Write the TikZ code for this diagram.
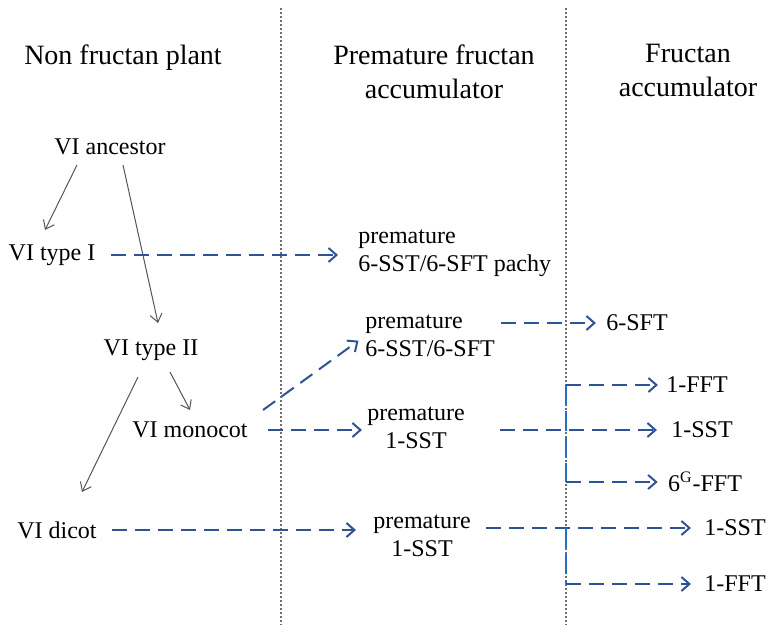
\documentclass[tikz,border=0pt]{standalone}
\usepackage{fontspec}
\setmainfont{Liberation Serif}
\usepackage{tikz}
\usetikzlibrary{arrows.meta}
\definecolor{arrowColor}{RGB}{47,84,150}
\definecolor{bracketColor}{RGB}{40,110,190}
\definecolor{treeColor}{RGB}{85,85,85}
\definecolor{dividerColor}{RGB}{110,110,110}
\tikzstyle{canvas} = [x = .5pt, y = -.5pt]
\tikzstyle{plantText} = [font=\fontsize{12}{14}\selectfont, inner sep=0pt]
\tikzstyle{enzymeText} = [plantText, align=left, anchor=west]
\tikzstyle{headerText} = [font=\fontsize{14}{17}\selectfont, align=center, anchor=north, inner sep=0pt]
\tikzstyle{treeArrow} = [color=treeColor, line width=.5pt, -{Straight Barb[length=4pt, width=6pt]}]
\tikzstyle{dashArrow} = [color=arrowColor, line width=1pt, dash pattern=on 7.5pt off 4pt, -{Straight Barb[length=4pt, width=7pt]}]
\tikzstyle{bracketLine} = [color=bracketColor, line width=1pt, dash pattern=on 10pt off 3pt]
\tikzstyle{dividerLine} = [color=dividerColor, line width=.6pt, dash pattern=on 1pt off 1pt]

\begin{document}
\begin{tikzpicture}[canvas]
  \useasboundingbox (0,0) rectangle (775,635);
  % column dividers
  \coordinate (divLeft) at (281,8);
  \coordinate (divRight) at (566,8);
  \draw [dividerLine] (divLeft) -- ++(0,617);
  \draw [dividerLine] (divRight) -- ++(0,617);

  % headers
  \node [headerText] (headNon) at (123,44) {Non fructan plant};
  \node [headerText] (headPre) at (434,44) {Premature fructan\\accumulator};
  \node [headerText] (headFru) at (688,44) {Fructan\\accumulator};

  % VI tree
  \node [plantText] (ancestor) at (110,147) {VI ancestor};
  \node [plantText] (typeOne) at (52,255) {VI type I};
  \node [plantText] (typeTwo) at (151,350) {VI type II};
  \node [plantText] (monocot) at (190,430) {VI monocot};
  \node [plantText] (dicot) at (57,530) {VI dicot};

  % premature accumulators
  \node [enzymeText] (preSstPachy) at (358,253) {premature\\6-SST/6-SFT pachy};
  \node [enzymeText] (preSst) at (365,336) {premature\\6-SST/6-SFT};
  \node [plantText, align=center] (preMono) at (416,428) {premature\\1-SST};
  \node [plantText, align=center] (preDicot) at (422,536) {premature\\1-SST};

  % fructan accumulators
  \node [plantText] (sftMono) at (637,323) {6-SFT};
  \node [plantText] (fftMono) at (697,385) {1-FFT};
  \node [plantText] (sstMono) at (702,430) {1-SST};
  \node [plantText] (gfftMono) at (705,482) {6\textsuperscript{G}-FFT};
  \node [plantText] (sstDicot) at (735,528) {1-SST};
  \node [plantText] (fftDicot) at (735,584) {1-FFT};

  % tree arrows
  \draw [treeArrow] ([shift={(-33,18)}]ancestor.center) -- ([shift={(-7,-25)}]typeOne.center);
  \draw [treeArrow] ([shift={(13,18)}]ancestor.center) -- ([shift={(7,-27)}]typeTwo.center);
  \draw [treeArrow] ([shift={(19,22)}]typeTwo.center) -- ([shift={(0,-20)}]monocot.center);
  \draw [treeArrow] ([shift={(-13,27)}]typeTwo.center) -- ([shift={(25,-38)}]dicot.center);

  % dashed arrows
  \draw [dashArrow, shorten <=7.5pt, shorten >=10pt] (typeOne.east) -- (typeOne.east -| preSstPachy.west);
  \draw [dashArrow, shorten >=4pt] ([shift={(15,-20)}]monocot.east) -- (preSst.west);
  \draw [dashArrow, shorten <=10pt, shorten >=2.5pt] (monocot.east) -- (monocot.east -| preMono.west);
  \draw [dashArrow, shorten <=7.5pt, shorten >=8.5pt] (dicot.east) -- (dicot.east -| preDicot.west);
  \draw [dashArrow, shorten <=3pt, shorten >=5pt] (sftMono.west -| preSst.east) -- (sftMono.west);
  \draw [dashArrow, shorten <=17.5pt, shorten >=7pt] (sstMono.west -| preMono.east) -- (sstMono.west);
  \draw [dashArrow, shorten <=7.5pt, shorten >=6.5pt] (sstDicot.west -| preDicot.east) -- (sstDicot.west);

  % brackets
  \draw [bracketLine] (fftMono.west -| divRight) -- (gfftMono.west -| divRight);
  \draw [dashArrow, shorten >=4pt] (fftMono.west -| divRight) -- (fftMono.west);
  \draw [dashArrow, shorten >=5pt] (gfftMono.west -| divRight) -- (gfftMono.west);
  \draw [bracketLine] (sstDicot.west -| divRight) -- (fftDicot.west -| divRight);
  \draw [dashArrow, shorten >=6.5pt] (fftDicot.west -| divRight) -- (fftDicot.west);
\end{tikzpicture}
\end{document}
